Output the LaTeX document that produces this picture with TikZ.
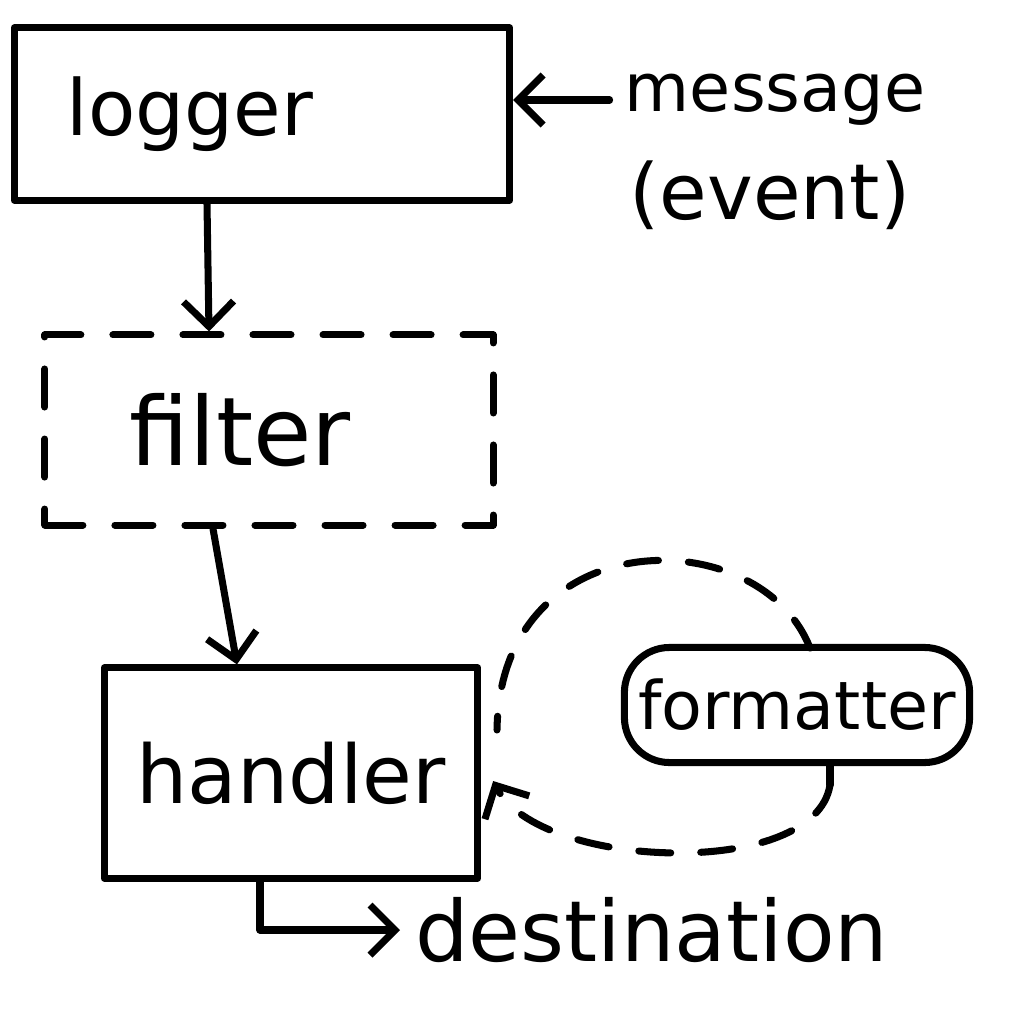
\documentclass[tikz,border=0pt]{standalone}
\usepackage{fontspec}
\setmainfont{DejaVu Sans}
\usetikzlibrary{arrows.meta}

\tikzset{
  box/.style={draw, line width=2pt, inner sep=0pt},
  dbox/.style={box, dash pattern=on 0.38cm off 0.32cm},
  pen/.style={line width=2pt, line cap=round, line join=round},
  dpen/.style={pen, dash pattern=on 0.32cm off 0.3cm},
  tip/.style={-{Straight Barb[length=0.25cm, width=0.5cm, line width=2pt]}}
}

\begin{document}
\begin{tikzpicture}[x=0.01cm, y=-0.01cm, pen]
            \useasboundingbox (0,0) rectangle (1024,1024);

            \node[box, minimum width=4.95cm, minimum height=1.72cm, text width=3.9cm, align=left,
                  font=\fontsize{22}{26}\selectfont] (logger) at (262,114) {logger};
            \node[draw=none, font=\fontsize{19}{22}\selectfont] (message) at (775,100) {message};
            \node[draw=none, font=\fontsize{22}{26}\selectfont] (event) at (770,195) {(event)};

            \node[dbox, minimum width=4.48cm, minimum height=1.9cm, text width=2.78cm, align=left,
                  font=\fontsize{27}{30}\selectfont] (filter) at (269,430) {filter};

            \node[box, minimum width=3.73cm, minimum height=2.1cm,
                  font=\fontsize{23}{27}\selectfont] (handler) at (291,773) {handler};

            \node[box, rounded corners=0.45cm, minimum width=3.45cm, minimum height=1.15cm,
                  font=\fontsize{19}{23}\selectfont] (fmt) at (797,705) {formatter};
            \coordinate (fmttop) at (810,648);
            \coordinate (fmtstem) at (830,785);

            \node[draw=none, anchor=west, font=\fontsize{24}{28}\selectfont] (dest) at (400,930) {destination};

            \draw[tip] (message.west) -- (logger.east |- message.west);
            \draw[tip] (logger.south -| 207,0) -- (filter.north -| 209,0);
            \draw[tip] ([xshift=-0.56cm]filter.south) -- ([xshift=-0.54cm]handler.north);
            \draw[tip] ([xshift=-0.31cm]handler.south) |- (dest.west);

            \draw[dpen] (fmttop) .. controls (760,520) and (500,520) .. (497,730);
            \draw (fmt.south -| fmtstem) -- (fmtstem);
            \draw[dpen, tip] (fmtstem) .. controls (815,880) and (540,870) .. ([xshift=0.12cm, yshift=-0.08cm]handler.east);
            
            \end{tikzpicture}
\end{document}
